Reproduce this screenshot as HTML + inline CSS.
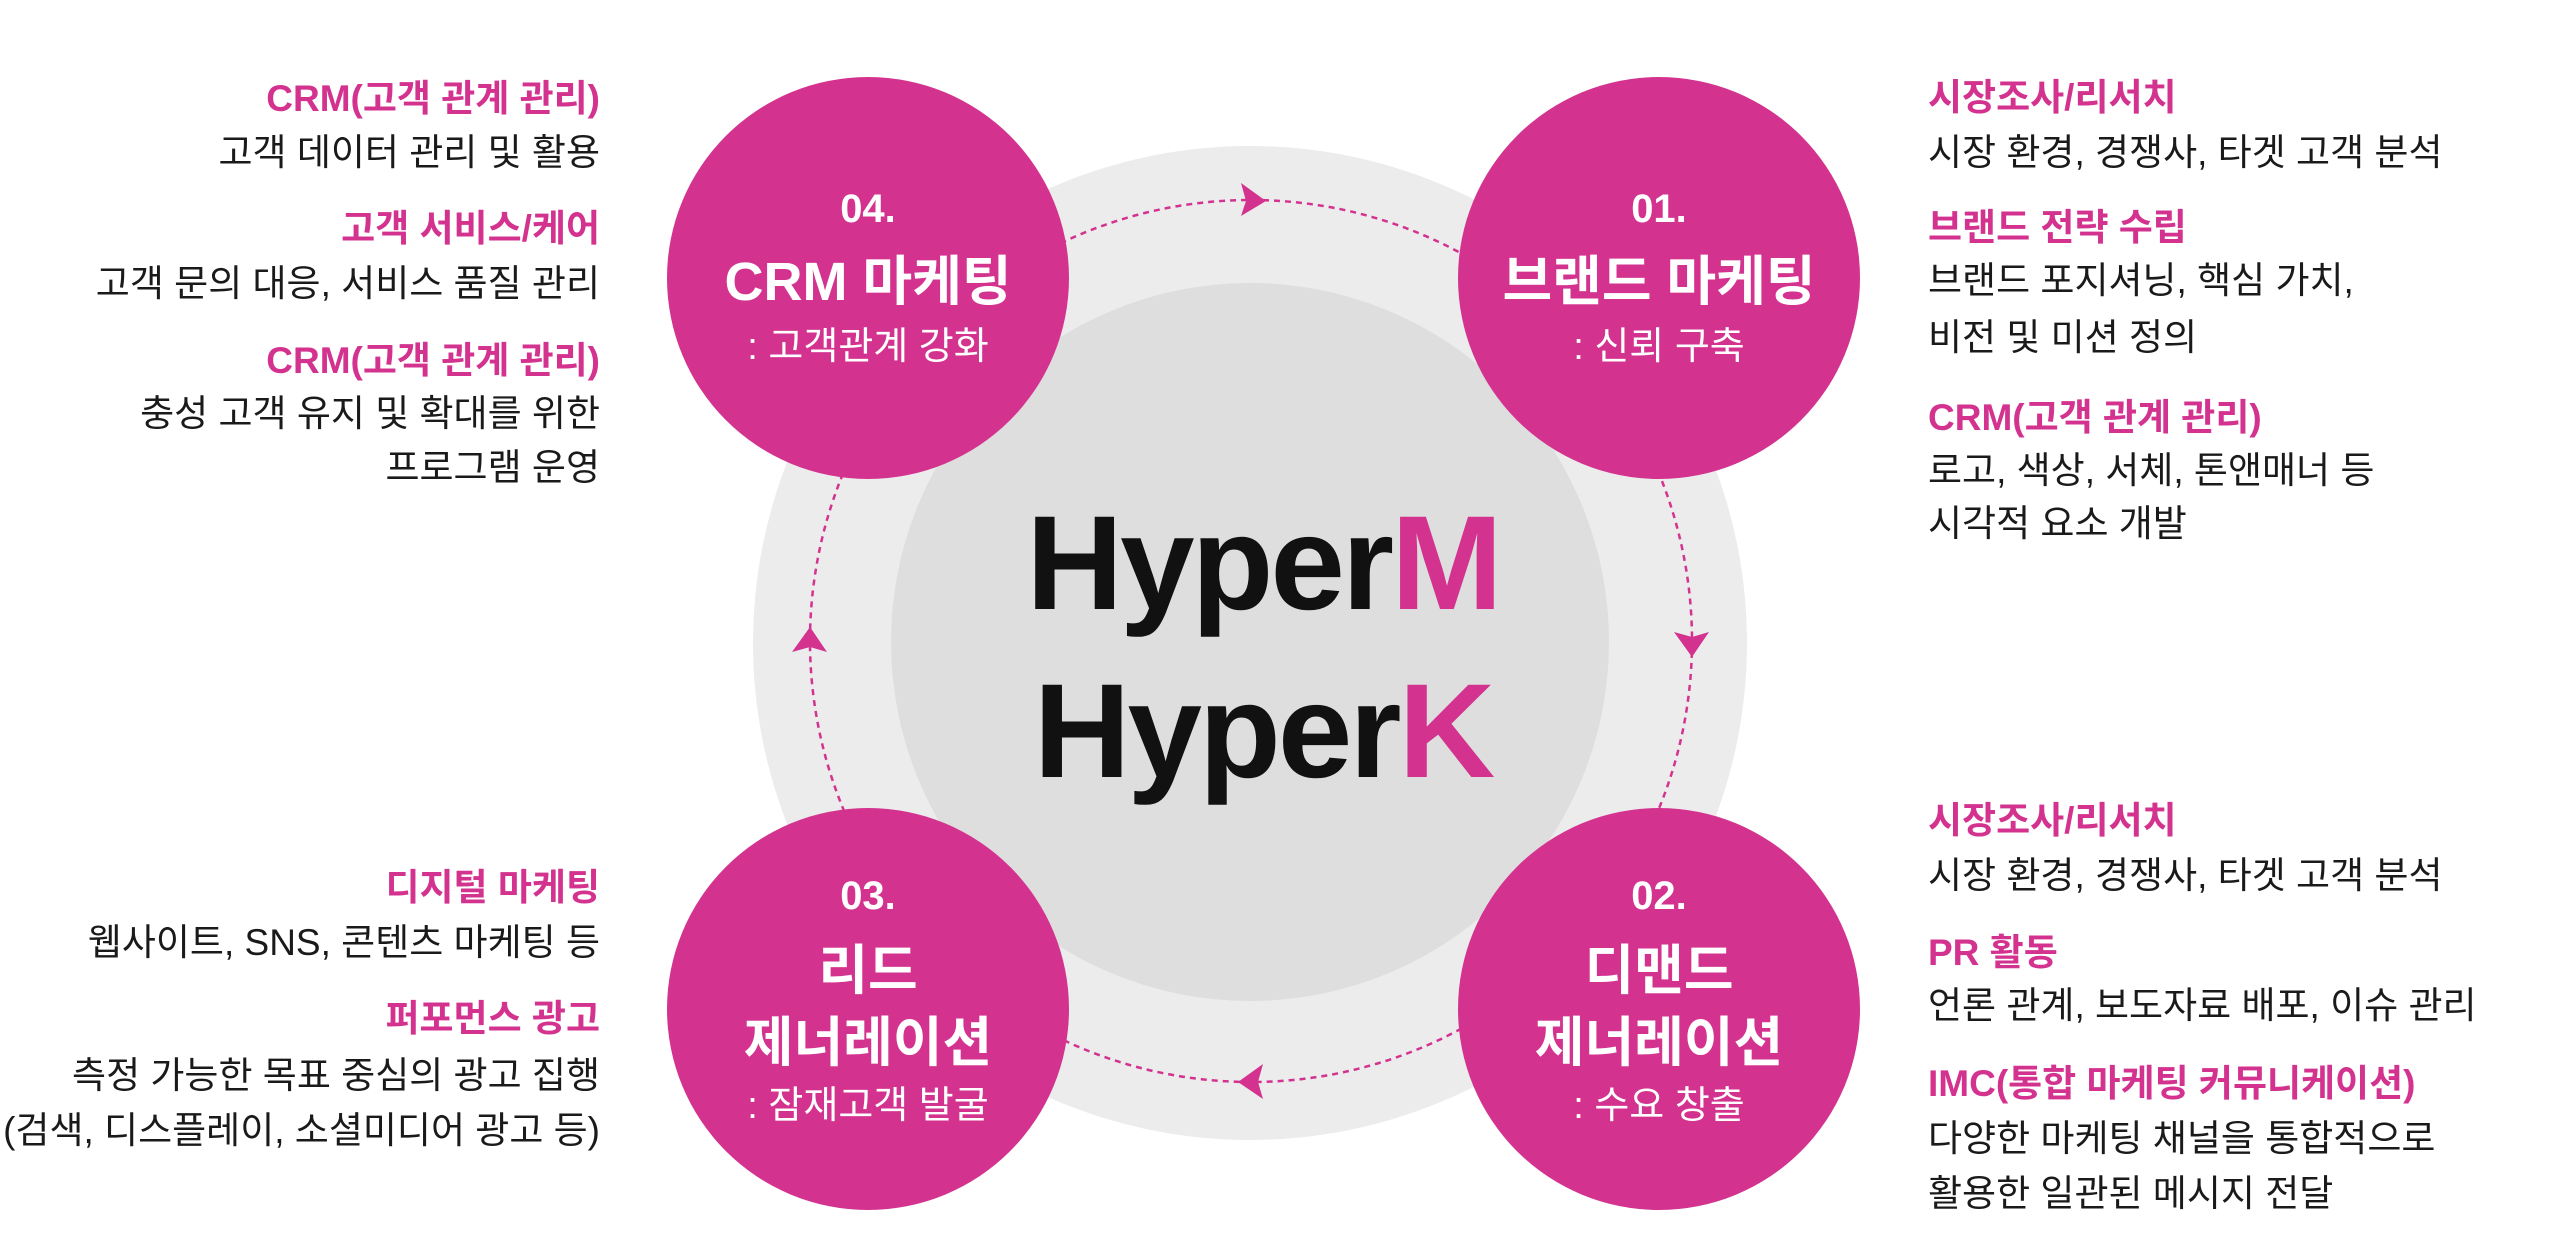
<!DOCTYPE html>
<html><head><meta charset="utf-8"><style>
html,body{margin:0;padding:0;background:#fff;}
body{width:2560px;height:1238px;overflow:hidden;}
svg{display:block;}
.h{font-family:"Liberation Sans","Noto Sans CJK KR",sans-serif;font-weight:700;font-size:37px;fill:#d3338f;}
.b{font-family:"Liberation Sans","Noto Sans CJK KR",sans-serif;font-size:37px;fill:#1a1a1a;}
.n{font-family:"Liberation Sans","Noto Sans CJK KR",sans-serif;fill:#fff;text-anchor:middle;}
</style></head><body>
<svg width="2560" height="1238" viewBox="0 0 2560 1238" xmlns="http://www.w3.org/2000/svg">
<circle cx="1250" cy="643" r="497" fill="#ececec"/>
<circle cx="1250" cy="642" r="359" fill="#dedede"/>
<circle cx="1251" cy="641" r="441" fill="none" stroke="#d3338f" stroke-width="2.5" stroke-dasharray="6 5"/>
<polygon points="1266,201 1241,183 1246,201 1241,216" fill="#d3338f"/>
<polygon points="1692,657 1674,632 1692,637 1709,632" fill="#d3338f"/>
<polygon points="1238,1082 1263,1064 1258,1082 1263,1099" fill="#d3338f"/>
<polygon points="810,627 792,652 810,647 827,652" fill="#d3338f"/>
<circle cx="868" cy="278" r="201" fill="#d3338f"/>
<circle cx="1659" cy="278" r="201" fill="#d3338f"/>
<circle cx="868" cy="1009" r="201" fill="#d3338f"/>
<circle cx="1659" cy="1009" r="201" fill="#d3338f"/>

<text class="n" x="868" y="222" font-size="40" font-weight="700">04.</text>
<text class="n" x="868" y="300" font-size="54" font-weight="700">CRM 마케팅</text>
<text class="n" x="868" y="359" font-size="38">: 고객관계 강화</text>

<text class="n" x="1659" y="222" font-size="40" font-weight="700">01.</text>
<text class="n" x="1659" y="300" font-size="54" font-weight="700">브랜드 마케팅</text>
<text class="n" x="1659" y="359" font-size="38">: 신뢰 구축</text>

<text class="n" x="868" y="909" font-size="40" font-weight="700">03.</text>
<text class="n" x="868" y="989" font-size="54" font-weight="700">리드</text>
<text class="n" x="868" y="1061" font-size="54" font-weight="700">제너레이션</text>
<text class="n" x="868" y="1118" font-size="38">: 잠재고객 발굴</text>

<text class="n" x="1659" y="909" font-size="40" font-weight="700">02.</text>
<text class="n" x="1659" y="989" font-size="54" font-weight="700">디맨드</text>
<text class="n" x="1659" y="1061" font-size="54" font-weight="700">제너레이션</text>
<text class="n" x="1659" y="1118" font-size="38">: 수요 창출</text>

<text x="1263" y="609" text-anchor="middle" font-family="Liberation Sans, sans-serif" font-weight="700" font-size="134" letter-spacing="-3" fill="#111">Hyper<tspan fill="#d3338f">M</tspan></text>
<text x="1263" y="777" text-anchor="middle" font-family="Liberation Sans, sans-serif" font-weight="700" font-size="134" letter-spacing="-3" fill="#111">Hyper<tspan fill="#d3338f">K</tspan></text>

<text class="h" x="1928" y="110">시장조사/리서치</text>
<text class="b" x="1928" y="165">시장 환경, 경쟁사, 타겟 고객 분석</text>
<text class="h" x="1928" y="240">브랜드 전략 수립</text>
<text class="b" x="1928" y="293">브랜드 포지셔닝, 핵심 가치,</text>
<text class="b" x="1928" y="350">비전 및 미션 정의</text>
<text class="h" x="1928" y="430">CRM(고객 관계 관리)</text>
<text class="b" x="1928" y="483">로고, 색상, 서체, 톤앤매너 등</text>
<text class="b" x="1928" y="536">시각적 요소 개발</text>

<text class="h" x="1928" y="833">시장조사/리서치</text>
<text class="b" x="1928" y="888">시장 환경, 경쟁사, 타겟 고객 분석</text>
<text class="h" x="1928" y="965">PR 활동</text>
<text class="b" x="1928" y="1018">언론 관계, 보도자료 배포, 이슈 관리</text>
<text class="h" x="1928" y="1096">IMC(통합 마케팅 커뮤니케이션)</text>
<text class="b" x="1928" y="1151">다양한 마케팅 채널을 통합적으로</text>
<text class="b" x="1928" y="1206">활용한 일관된 메시지 전달</text>

<g text-anchor="end">
<text class="h" x="600" y="111">CRM(고객 관계 관리)</text>
<text class="b" x="600" y="165">고객 데이터 관리 및 활용</text>
<text class="h" x="600" y="241">고객 서비스/케어</text>
<text class="b" x="600" y="296">고객 문의 대응, 서비스 품질 관리</text>
<text class="h" x="600" y="373">CRM(고객 관계 관리)</text>
<text class="b" x="600" y="426">충성 고객 유지 및 확대를 위한</text>
<text class="b" x="600" y="480">프로그램 운영</text>

<text class="h" x="600" y="900">디지털 마케팅</text>
<text class="b" x="600" y="955">웹사이트, SNS, 콘텐츠 마케팅 등</text>
<text class="h" x="600" y="1031">퍼포먼스 광고</text>
<text class="b" x="600" y="1088">측정 가능한 목표 중심의 광고 집행</text>
<text class="b" x="600" y="1143">(검색, 디스플레이, 소셜미디어 광고 등)</text>
</g>
</svg>
</body></html>
